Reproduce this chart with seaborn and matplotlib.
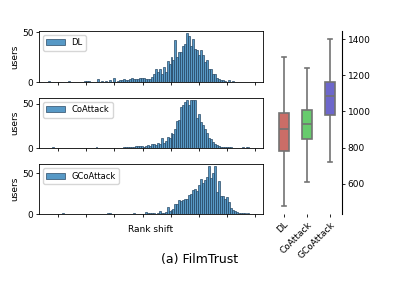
import numpy as np
import pandas as pd
import matplotlib
matplotlib.use("Agg")
import matplotlib.pyplot as plt
import seaborn as sns

# histogram grid (rank shift), 104 bins of width 14
bin_start = -1270
bin_width = 14
n_bins = 104

dl_counts = {0: 1, 10: 1, 18: 1, 19: 1, 20: 1, 25: 3, 27: 1, 29: 1, 31: 2, 33: 4, 35: 1,
             36: 2, 37: 2, 38: 3, 39: 2, 40: 2, 41: 3, 42: 4, 43: 3, 44: 3, 45: 3, 46: 4,
             47: 4, 48: 4, 49: 3, 50: 3, 51: 3, 52: 5, 53: 8, 54: 13, 55: 10, 56: 13, 57: 8,
             58: 15, 59: 10, 60: 21, 61: 18, 62: 25, 63: 22, 64: 42, 65: 25, 66: 30, 67: 30,
             68: 36, 69: 38, 70: 49, 71: 46, 72: 36, 73: 43, 74: 33, 75: 32, 76: 27, 77: 32,
             78: 27, 79: 20, 80: 22, 81: 13, 82: 13, 83: 8, 84: 8, 85: 4, 86: 3, 87: 2,
             88: 2, 89: 1, 91: 2, 93: 1}
coattack_counts = {2: 1, 24: 1, 38: 1, 39: 2, 40: 1, 41: 2, 42: 2, 43: 2, 44: 3, 45: 3, 46: 3,
                   47: 3, 48: 2, 49: 3, 50: 4, 51: 3, 52: 5, 53: 5, 54: 4, 55: 6, 56: 5,
                   57: 11, 58: 6, 59: 8, 60: 13, 61: 12, 62: 17, 63: 16, 64: 22, 65: 31,
                   66: 32, 67: 46, 68: 48, 69: 52, 70: 54, 71: 48, 72: 54, 73: 54, 74: 54,
                   75: 34, 76: 38, 77: 30, 78: 26, 79: 22, 80: 17, 81: 12, 82: 10, 83: 7,
                   84: 5, 85: 4, 86: 3, 87: 2, 88: 2, 89: 2, 90: 1, 91: 2, 92: 2, 98: 1,
                   100: 1, 101: 1}
gcoattack_counts = {7: 1, 30: 1, 31: 1, 43: 1, 49: 3, 50: 1, 51: 1, 52: 1, 53: 1, 55: 2,
                    56: 4, 57: 2, 58: 2, 59: 3, 60: 9, 61: 4, 62: 5, 63: 7, 64: 12, 65: 13,
                    66: 17, 67: 16, 68: 17, 69: 19, 70: 18, 71: 23, 72: 25, 73: 29, 74: 31,
                    75: 28, 76: 35, 77: 43, 78: 38, 79: 42, 80: 45, 81: 58, 82: 44, 83: 50,
                    84: 58, 85: 27, 86: 40, 87: 22, 88: 22, 89: 19, 90: 21, 91: 15, 92: 8,
                    93: 5, 94: 4, 95: 3, 96: 2, 97: 1, 98: 1, 99: 1, 101: 1}

methods = ["DL", "CoAttack", "GCoAttack"]
# five-number summaries for the box plot (low whisker, q1, median, q3, high whisker)
dl_box = [478, 782, 905, 992, 1300]
coattack_box = [613, 849, 930, 1009, 1238]
gcoattack_box = [723, 983, 1087, 1163, 1400]

bin_end = bin_start + bin_width * n_bins
centers = bin_start + bin_width * np.arange(n_bins) + bin_width / 2

fig = plt.figure(figsize=(3.99, 2.99), dpi=100)

hist_pos = [[0.0977, 0.7247, 0.5614, 0.1726],
            [0.0977, 0.5040, 0.5614, 0.1692],
            [0.0977, 0.2833, 0.5614, 0.1682]]
series = [dl_counts, coattack_counts, gcoattack_counts]

for pos, name, counts in zip(hist_pos, methods, series):
    ax = fig.add_axes(pos)
    w = np.zeros(n_bins)
    for k, v in counts.items():
        w[k] = v
    hist_df = pd.DataFrame({"shift": centers, "users": w})
    sns.histplot(data=hist_df, x="shift", weights="users", binwidth=bin_width,
                 binrange=(bin_start, bin_end), ax=ax, label=name,
                 linewidth=0.5, edgecolor="#2b4a66")
    ax.set_xlim(-1335, 254)
    ax.set_xticks(np.arange(-1200, 201, 200))
    ax.set_xticklabels([])
    ax.set_yticks([0, 50])
    ax.tick_params(labelsize=6.5, length=2.5, width=0.6, pad=1.5)
    ax.set_ylabel("users", fontsize=6.5, labelpad=2)
    ax.legend(loc="upper left", fontsize=6, handlelength=2.2)
    for s in ax.spines.values():
        s.set_linewidth(0.6)
    ax.set_xlabel("")

ax.set_xlabel("Rank shift", fontsize=6.5, labelpad=4)

# box plot panel
box_df = pd.DataFrame({
    "method": np.repeat(methods, 5),
    "value": dl_box + coattack_box + gcoattack_box,
})
axb = fig.add_axes([0.683, 0.2833, 0.173, 0.614])
sns.boxplot(data=box_df, x="method", y="value", hue="method", palette="hls",
            width=0.42, ax=axb, legend=False, linewidth=1.2, linecolor="0.45")
axb.yaxis.tick_right()
for side in ["left", "top", "bottom"]:
    axb.spines[side].set_visible(False)
axb.spines["right"].set_linewidth(0.8)
axb.set_xlabel("")
axb.set_ylabel("")
axb.set_yticks([600, 800, 1000, 1200, 1400])
axb.tick_params(axis="y", labelsize=6.5, length=2.5, width=0.6, pad=2)
axb.tick_params(axis="x", labelsize=6.5, length=2, width=0.6, pad=2)
plt.setp(axb.get_xticklabels(), rotation=45, ha="right", rotation_mode="anchor")

fig.text(0.5, 0.133, "(a) FilmTrust", ha="center", va="center", fontsize=9)

fig.savefig("out.png", dpi=100)
